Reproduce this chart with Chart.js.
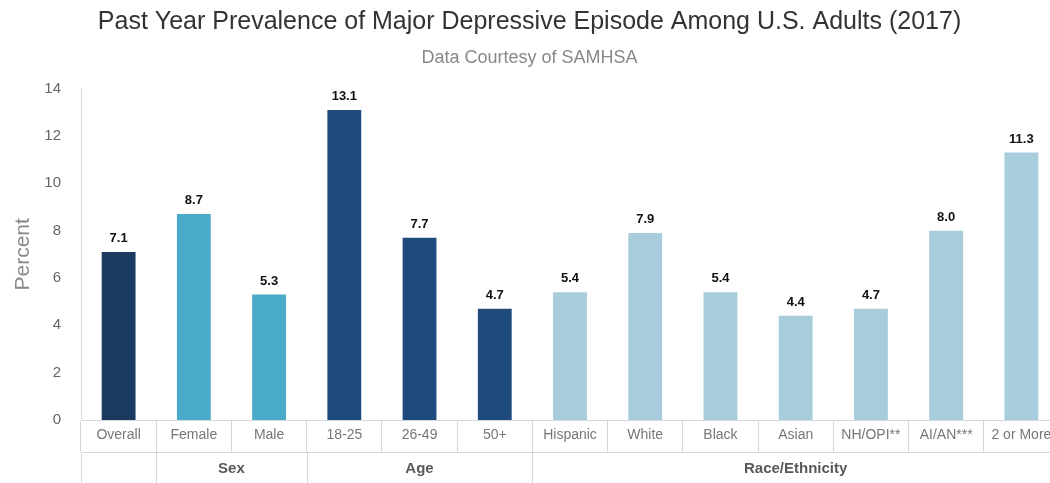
<!DOCTYPE html>
<html>
<head>
<meta charset="utf-8">
<script src="https://cdn.jsdelivr.net/npm/chart.js@4/dist/chart.umd.min.js"></script>
<style>
  html, body { margin: 0; padding: 0; background: #fff; overflow: hidden; }
  canvas { display: block; }
</style>
</head>
<body>
<canvas id="myChart" width="1062" height="490"></canvas>
<script>
// datos
const categories = ['Overall', 'Female', 'Male', '18-25', '26-49', '50+', 'Hispanic', 'White', 'Black', 'Asian', 'NH/OPI**', 'AI/AN***', '2 or More'];
const values = [7.1, 8.7, 5.3, 13.1, 7.7, 4.7, 5.4, 7.9, 5.4, 4.4, 4.7, 8.0, 11.3];
const barColors = ['#1b3a5f', '#4aabc8', '#4aabc8', '#1f4b7c', '#1f4b7c', '#1f4b7c', '#a7cddc', '#a7cddc', '#a7cddc', '#a7cddc', '#a7cddc', '#a7cddc', '#a7cddc'];
// grupos: nombre, primer y ultimo indice
const groupNames = ['', 'Sex', 'Age', 'Race/Ethnicity'];
const groupStart = [0, 1, 3, 6];
const groupEnd = [0, 2, 5, 12];
const yTicks = [0, 2, 4, 6, 8, 10, 12, 14];

const lineColor = '#d3d8df';
const font = '"Liberation Sans", Arial, sans-serif';

// etiquetas de valor encima de cada barra
const valueLabels = {
  id: 'valueLabels',
  afterDatasetsDraw(chart) {
    const ctx = chart.ctx;
    const meta = chart.getDatasetMeta(0);
    ctx.save();
    ctx.font = 'bold 13px ' + font;
    ctx.fillStyle = '#111';
    ctx.textAlign = 'center';
    ctx.textBaseline = 'bottom';
    meta.data.forEach((bar, i) => {
      ctx.fillText(values[i].toFixed(1), bar.x, bar.y - 7);
    });
    ctx.restore();
  }
};

// fila de grupos debajo de las categorias
const groupRow = {
  id: 'groupRow',
  afterDraw(chart) {
    const ctx = chart.ctx;
    const x = chart.scales.x;
    const top = x.bottom;
    const bottom = chart.height;
    const half = (x.getPixelForValue(1) - x.getPixelForValue(0)) / 2;
    ctx.save();
    ctx.strokeStyle = lineColor;
    ctx.lineWidth = 1;
    ctx.beginPath();
    ctx.moveTo(x.left, top + 0.5);
    ctx.lineTo(x.right, top + 0.5);
    groupStart.forEach(s => {
      const px = Math.round(x.getPixelForValue(s) - half) + 0.5;
      ctx.moveTo(px, top);
      ctx.lineTo(px, bottom);
    });
    const rx = Math.round(x.right) - 0.5;
    ctx.moveTo(rx, top);
    ctx.lineTo(rx, bottom);
    ctx.stroke();
    ctx.font = 'bold 15px ' + font;
    ctx.fillStyle = '#595959';
    ctx.textAlign = 'center';
    ctx.textBaseline = 'middle';
    groupNames.forEach((g, i) => {
      const cx = (x.getPixelForValue(groupStart[i]) + x.getPixelForValue(groupEnd[i])) / 2;
      ctx.fillText(g, cx, top + 17);
    });
    ctx.restore();
  }
};

const ctx = document.getElementById('myChart');
new Chart(ctx, {
  type: 'bar',
  data: {
    labels: categories,
    datasets: [{
      data: values,
      backgroundColor: barColors,
      barPercentage: 0.45,
      categoryPercentage: 1.0
    }]
  },
  options: {
    responsive: false,
    animation: false,
    layout: { padding: { left: 0, right: 3, top: 0, bottom: 38 } },
    plugins: {
      legend: { display: false },
      tooltip: { enabled: false },
      title: {
        display: true,
        text: 'Past Year Prevalence of Major Depressive Episode Among U.S. Adults (2017)',
        color: '#333',
        font: { family: font, size: 25, weight: 'normal' },
        padding: { top: 7, bottom: 10 }
      },
      subtitle: {
        display: true,
        text: 'Data Courtesy of SAMHSA',
        color: '#888',
        font: { family: font, size: 18, weight: 'normal' },
        padding: { top: 0, bottom: 20 }
      }
    },
    scales: {
      x: {
        grid: {
          display: true,
          offset: true,
          drawOnChartArea: false,
          drawTicks: true,
          tickLength: 32,
          color: lineColor
        },
        border: { display: true, color: lineColor },
        ticks: {
          color: '#777',
          font: { family: font, size: 14 },
          padding: -25,
          maxRotation: 0,
          autoSkip: false
        },
        afterFit(s) { s.height = 32; }
      },
      y: {
        min: 0,
        max: 14,
        afterBuildTicks(s) { s.ticks = yTicks.map(v => ({ value: v })); },
        grid: { display: false, drawTicks: false },
        border: { display: true, color: lineColor },
        ticks: {
          color: '#666',
          font: { family: font, size: 15 },
          padding: 20
        },
        title: {
          display: true,
          text: 'Percent',
          color: '#888',
          font: { family: font, size: 21 },
          padding: { top: 11, bottom: 0 }
        },
        afterFit(s) { s.width = 81; }
      }
    }
  },
  plugins: [valueLabels, groupRow]
});
</script>
</body>
</html>
